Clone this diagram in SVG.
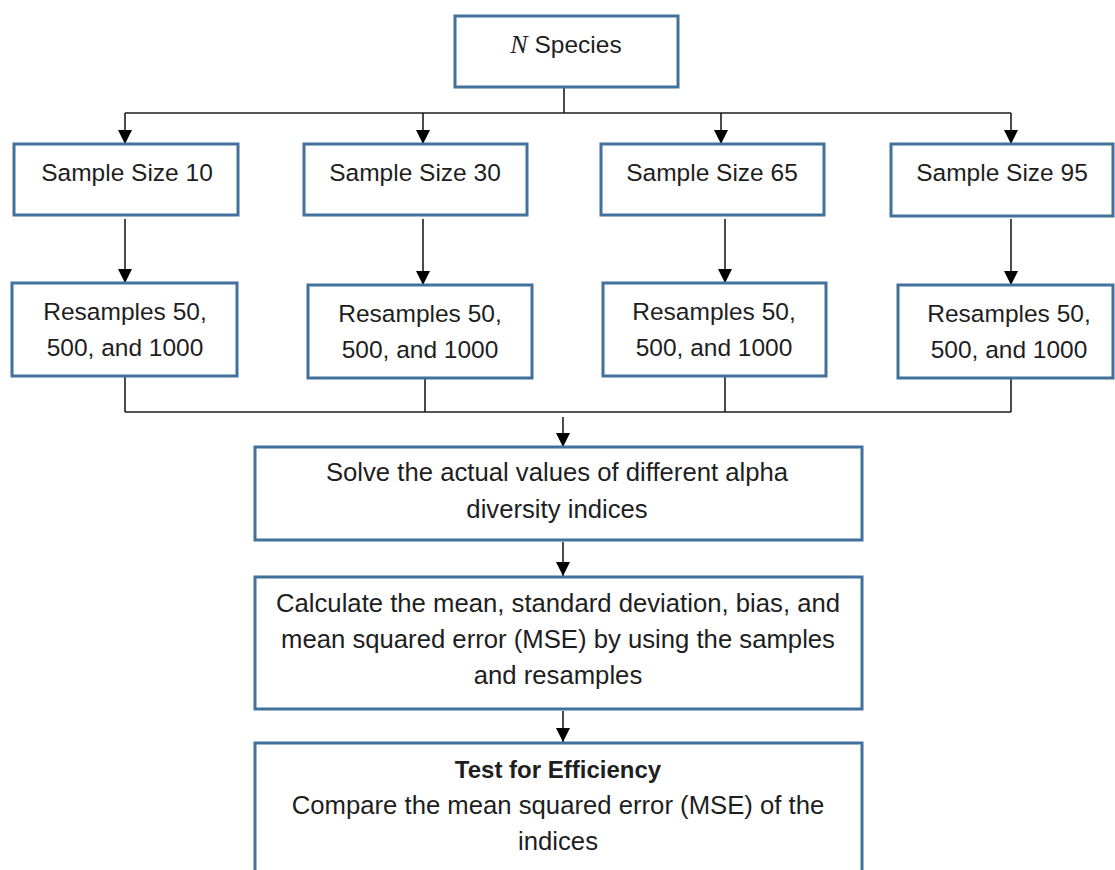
<svg xmlns="http://www.w3.org/2000/svg" width="1115" height="870" viewBox="0 0 1115 870">
<style>
.box{fill:#ffffff;stroke:#41719c;stroke-width:3}
.t{font-family:"Liberation Sans",Arial,sans-serif;font-size:24.5px;fill:#1e1e1e;text-anchor:middle}
.w{font-size:25.7px}
.b{font-weight:bold;font-size:24px}
.ln{fill:none;stroke:#1e1e1e;stroke-width:1.6}
.ar{fill:none;stroke:#1e1e1e;stroke-width:1.6;marker-end:url(#ah)}
</style>
<defs>
<marker id="ah" viewBox="0 0 14 14" refX="14" refY="7" markerWidth="14" markerHeight="14" markerUnits="userSpaceOnUse" orient="auto">
<path d="M0,0 L14,7 L0,14 Z" fill="#000000"/>
</marker>
</defs>
<rect width="1115" height="870" fill="#ffffff"/>
<g id="connectors">
<path class="ln" d="M564,87 V113 M125,113 H1011"/>
<path class="ar" d="M125,113 V144"/>
<path class="ar" d="M423,113 V144"/>
<path class="ar" d="M721,113 V144"/>
<path class="ar" d="M1011,113 V144"/>
<path class="ar" d="M125,219 V283"/>
<path class="ar" d="M423,219 V285"/>
<path class="ar" d="M725,219 V283"/>
<path class="ar" d="M1011,219 V285"/>
<path class="ln" d="M125,376 V412 M425,378 V412 M725,376 V412 M1011,378 V412 M125,412 H1011"/>
<path class="ar" d="M563,417 V447"/>
<path class="ar" d="M563,542 V576"/>
<path class="ar" d="M563,711 V742"/>
</g>
<g id="n-species">
<rect class="box" x="455" y="16" width="223" height="71"/>
<text class="t" x="566" y="53"><tspan font-family="'Liberation Serif',serif" font-style="italic" font-size="26px">N</tspan> Species</text>
</g>
<g id="sample-10">
<rect class="box" x="14" y="144" width="224" height="71"/>
<text class="t" x="127" y="181">Sample Size 10</text>
</g>
<g id="sample-30">
<rect class="box" x="304" y="144" width="223" height="71"/>
<text class="t" x="415" y="181">Sample Size 30</text>
</g>
<g id="sample-65">
<rect class="box" x="601" y="144" width="223" height="71"/>
<text class="t" x="712" y="181">Sample Size 65</text>
</g>
<g id="sample-95">
<rect class="box" x="891" y="144" width="222" height="72"/>
<text class="t" x="1002" y="181">Sample Size 95</text>
</g>
<g id="resample-1">
<rect class="box" x="12" y="283" width="225" height="93"/>
<text class="t" x="125" y="320">Resamples 50,</text>
<text class="t" x="125" y="356">500, and 1000</text>
</g>
<g id="resample-2">
<rect class="box" x="308" y="285" width="224" height="93"/>
<text class="t" x="420" y="322">Resamples 50,</text>
<text class="t" x="420" y="358">500, and 1000</text>
</g>
<g id="resample-3">
<rect class="box" x="603" y="283" width="223" height="93"/>
<text class="t" x="714" y="320">Resamples 50,</text>
<text class="t" x="714" y="356">500, and 1000</text>
</g>
<g id="resample-4">
<rect class="box" x="898" y="285" width="215" height="93"/>
<text class="t" x="1009" y="322">Resamples 50,</text>
<text class="t" x="1009" y="358">500, and 1000</text>
</g>
<g id="solve">
<rect class="box" x="255" y="447" width="607" height="93"/>
<text class="t w" x="557" y="481">Solve the actual values of different alpha</text>
<text class="t w" x="557" y="518">diversity indices</text>
</g>
<g id="calculate">
<rect class="box" x="255" y="577" width="607" height="132"/>
<text class="t w" x="558" y="612">Calculate the mean, standard deviation, bias, and</text>
<text class="t w" x="558" y="648">mean squared error (MSE) by using the samples</text>
<text class="t w" x="558" y="684">and resamples</text>
</g>
<g id="test">
<rect class="box" x="255" y="743" width="607" height="140"/>
<text class="t b" x="558" y="778">Test for Efficiency</text>
<text class="t w" x="558" y="814">Compare the mean squared error (MSE) of the</text>
<text class="t w" x="558" y="850">indices</text>
</g>
</svg>
